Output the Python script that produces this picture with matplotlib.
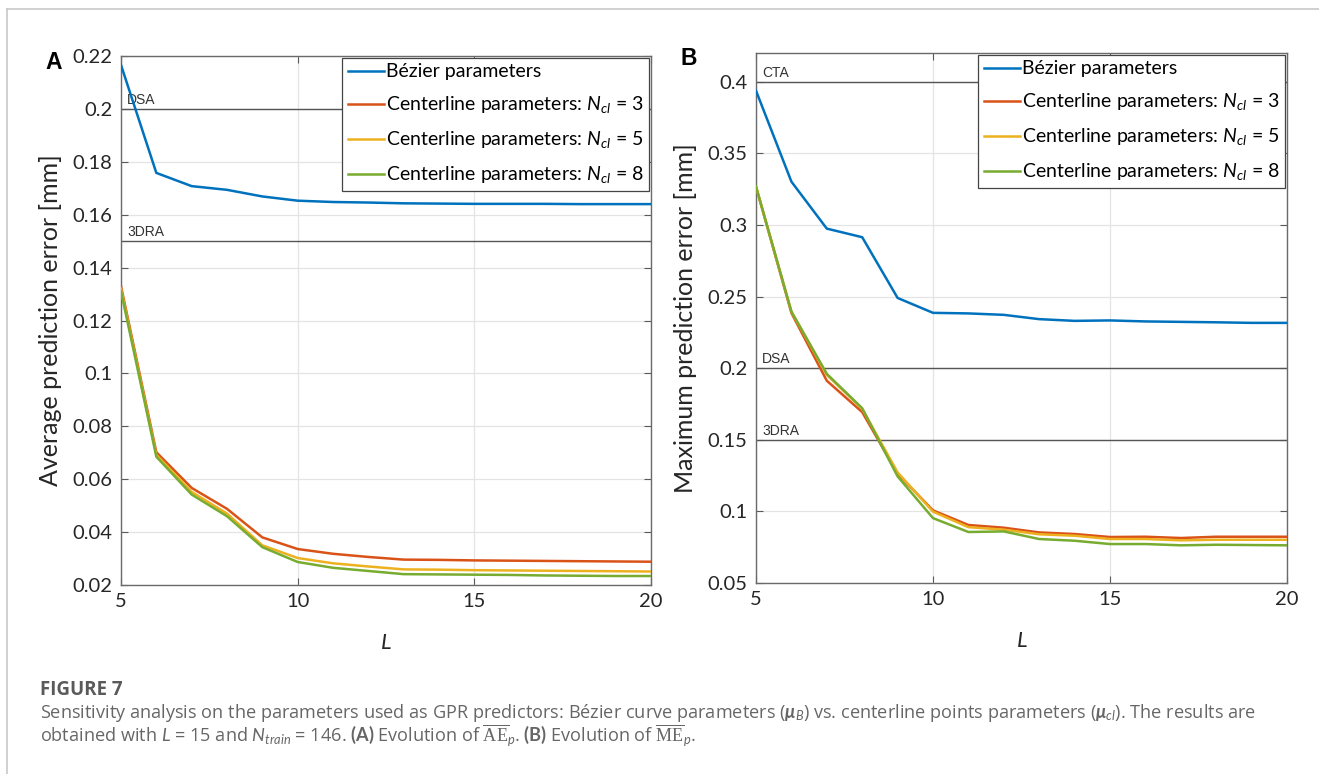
import matplotlib
matplotlib.use("Agg")
import matplotlib.pyplot as plt
from matplotlib.lines import Line2D

plt.rcParams['font.family'] = ['Lato', 'DejaVu Sans']
plt.rcParams['mathtext.fontset'] = 'custom'
plt.rcParams['mathtext.rm'] = 'Lato'
plt.rcParams['mathtext.it'] = 'Lato:italic'
plt.rcParams['mathtext.bf'] = 'Lato:bold'
plt.rcParams['mathtext.sf'] = 'Liberation Serif'
if 'mathtext.bfit' in plt.rcParams:
    plt.rcParams['mathtext.bfit'] = 'Lato:italic:bold'
    MU = r'\mathbfit{\mu}'
else:
    MU = r'\mathbf{\mu}'

# number of control points L
L = [5, 6, 7, 8, 9, 10, 11, 12, 13, 14, 15, 16, 17, 18, 19, 20]

# (A) average prediction error [mm]
ae_bezier = [0.2166, 0.1758, 0.1708, 0.1694, 0.1669, 0.1653, 0.1648, 0.1646,
             0.1643, 0.1642, 0.1641, 0.1641, 0.1641, 0.1640, 0.1640, 0.1640]
ae_ncl3 = [0.1330, 0.0702, 0.0567, 0.0488, 0.0380, 0.0336, 0.0318, 0.0306,
           0.0296, 0.0295, 0.0293, 0.0292, 0.0291, 0.0290, 0.0289, 0.0288]
ae_ncl5 = [0.1320, 0.0692, 0.0552, 0.0470, 0.0350, 0.0302, 0.0282, 0.0270,
           0.0259, 0.0258, 0.0256, 0.0255, 0.0254, 0.0253, 0.0252, 0.0251]
ae_ncl8 = [0.1310, 0.0685, 0.0542, 0.0460, 0.0343, 0.0287, 0.0265, 0.0253,
           0.0241, 0.0240, 0.0239, 0.0238, 0.0236, 0.0235, 0.0234, 0.0234]

# (B) maximum prediction error [mm]
me_bezier = [0.3937, 0.3302, 0.2974, 0.2914, 0.2490, 0.2386, 0.2382, 0.2372,
             0.2342, 0.2330, 0.2333, 0.2326, 0.2323, 0.2320, 0.2316, 0.2316]
me_ncl3 = [0.3267, 0.2385, 0.1912, 0.1693, 0.1263, 0.1007, 0.0905, 0.0886,
           0.0853, 0.0842, 0.0821, 0.0823, 0.0814, 0.0823, 0.0823, 0.0823]
me_ncl5 = [0.3267, 0.2395, 0.1953, 0.1716, 0.1272, 0.0998, 0.0890, 0.0872,
           0.0840, 0.0830, 0.0807, 0.0807, 0.0798, 0.0802, 0.0802, 0.0802]
me_ncl8 = [0.3267, 0.2395, 0.1960, 0.1720, 0.1244, 0.0953, 0.0856, 0.0860,
           0.0807, 0.0795, 0.0772, 0.0772, 0.0763, 0.0767, 0.0765, 0.0763]

# imaging modality resolution thresholds
refs_a = [("DSA", 0.2), ("3DRA", 0.15)]
refs_b = [("CTA", 0.4), ("DSA", 0.2), ("3DRA", 0.15)]

labels = ["Bézier parameters",
          "Centerline parameters: $N_{cl}$ = 3",
          "Centerline parameters: $N_{cl}$ = 5",
          "Centerline parameters: $N_{cl}$ = 8"]
colors = ["#0072BD", "#D95319", "#EDB120", "#77AC30"]


def style_axes(ax, ylim, yticks):
    ax.set_xlim(5, 20)
    ax.set_ylim(*ylim)
    ax.set_xticks([5, 10, 15, 20])
    ax.set_yticks(yticks)
    ax.set_yticklabels(["%g" % round(t, 3) for t in yticks])
    ax.grid(True, color="#e4e4e4", lw=0.9)
    ax.set_axisbelow(True)
    ax.tick_params(direction="in", top=True, right=True, length=5, width=0.8,
                   colors="#5a5a5a", labelcolor="#262626", labelsize=14.5, pad=6)
    for sp in ax.spines.values():
        sp.set_color("#6a6a6a")
        sp.set_linewidth(1.0)
    ax.set_xlabel("$L$", fontsize=16, color="#262626", labelpad=16)


def draw_refs(ax, refs):
    for name, y in refs:
        ax.axhline(y, color="#555555", lw=1.0, zorder=1.5)
        ax.annotate(name, (5, y), xytext=(4.3, 3.6), textcoords="offset points",
                    fontsize=10, family="Liberation Sans", color="#333333",
                    va="baseline", ha="left")


fig = plt.figure(figsize=(13.19, 7.74), dpi=100)

# outer frame (left and top edges)
fig.add_artist(Line2D([7 / 1319, 7 / 1319], [0, 1 - 9 / 774], color="#c8c8c8", lw=1.2))
fig.add_artist(Line2D([7 / 1319, 1], [1 - 9 / 774, 1 - 9 / 774], color="#c8c8c8", lw=1.2))

ax_a = fig.add_axes([121 / 1319, 1 - 585 / 774, 530 / 1319, 529 / 774])
ax_b = fig.add_axes([756 / 1319, 1 - 583 / 774, 531 / 1319, 530 / 774])

for ax, series, refs, ylim, yticks, ylabel in [
    (ax_a, [ae_bezier, ae_ncl3, ae_ncl5, ae_ncl8], refs_a, (0.02, 0.22),
     [0.02, 0.04, 0.06, 0.08, 0.1, 0.12, 0.14, 0.16, 0.18, 0.2, 0.22],
     "Average prediction error [mm]"),
    (ax_b, [me_bezier, me_ncl3, me_ncl5, me_ncl8], refs_b, (0.05, 0.42),
     [0.05, 0.1, 0.15, 0.2, 0.25, 0.3, 0.35, 0.4],
     "Maximum prediction error [mm]"),
]:
    style_axes(ax, ylim, yticks)
    draw_refs(ax, refs)
    for vals, c, lab in zip(series, colors, labels):
        ax.plot(L, vals, color=c, lw=1.8, label=lab, zorder=3)
    ax.set_ylabel(ylabel, fontsize=18, color="#262626")
    ax.yaxis.set_label_coords(-0.112, 0.5)
    leg = ax.legend(loc="upper right", bbox_to_anchor=(0.997, 0.997), fontsize=14,
                    fancybox=False, framealpha=1, edgecolor="#444444",
                    handlelength=1.85, handletextpad=0.1, labelspacing=0.72,
                    borderpad=0.3, borderaxespad=0)
    leg.get_frame().set_linewidth(0.9)
    leg.set_zorder(5)

fig.text(45 / 1319, 1 - 69 / 774, "A", fontsize=16.5, fontweight="bold",
         family="Liberation Sans", va="baseline")
fig.text(680 / 1319, 1 - 65 / 774, "B", fontsize=16.5, fontweight="bold",
         family="Liberation Sans", va="baseline")

# caption
cap_font = ["Open Sans", "DejaVu Sans"]
fig.text(40 / 1319, 1 - 695 / 774, "FIGURE 7", fontsize=13.5, color="#5a5a5a",
         family=cap_font, va="baseline", fontweight="bold")
fig.text(40 / 1319, 1 - 718 / 774,
         "Sensitivity analysis on the parameters used as GPR predictors: Bézier curve "
         "parameters ($" + MU + "_B$) vs. centerline points parameters ($" + MU + "_{cl}$). "
         "The results are",
         fontsize=13.1, color="#666666", family=cap_font, va="baseline")
fig.text(40 / 1319, 1 - 742 / 774,
         r"obtained with $L$ = 15 and $N_{train}$ = 146. $\mathbf{(A)}$ Evolution of "
         r"$\overline{\mathsf{AE}}_p$. $\mathbf{(B)}$ Evolution of $\overline{\mathsf{ME}}_p$.",
         fontsize=13.1, color="#666666", family=cap_font, va="baseline")

fig.savefig("out.png", dpi=100)
